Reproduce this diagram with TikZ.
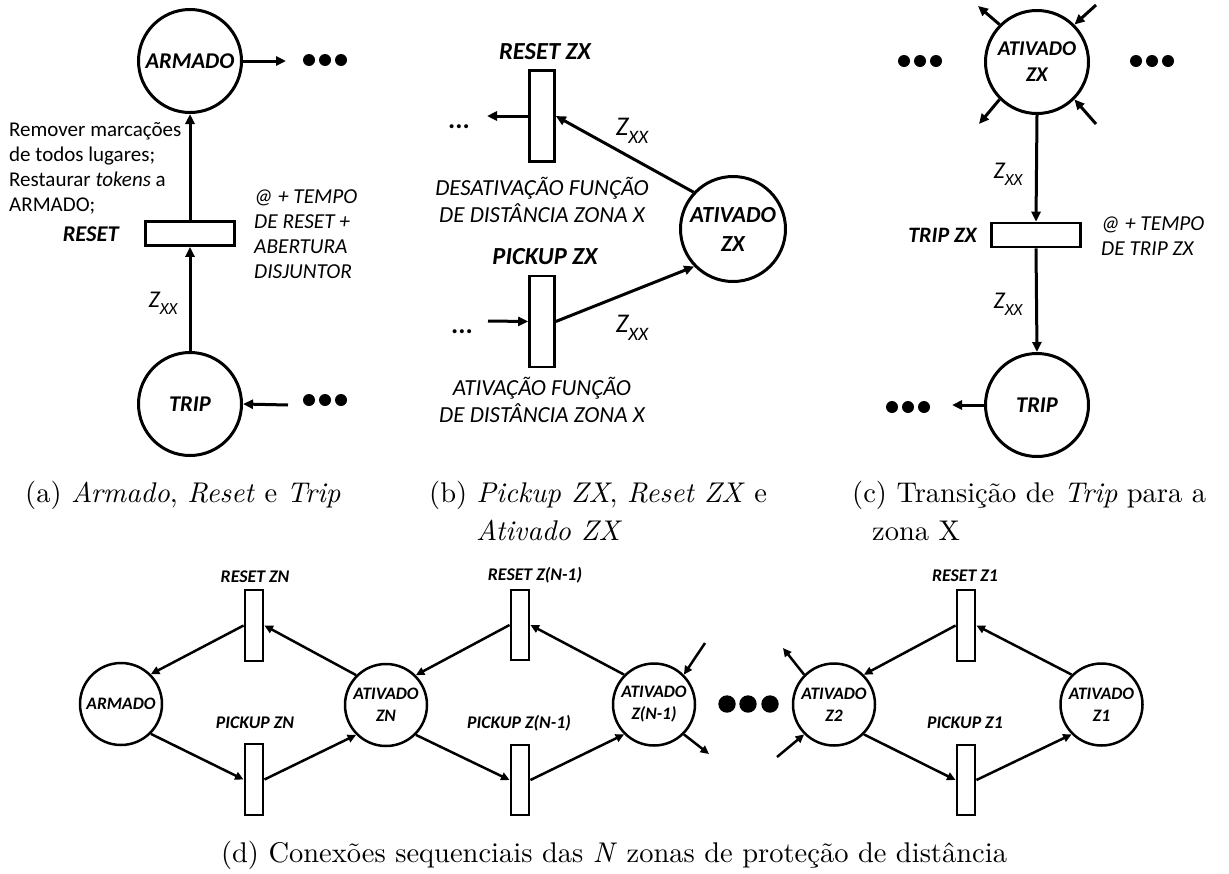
\documentclass[tikz,border=0pt]{standalone}
\usepackage{fontspec}
\setmainfont{Latin Modern Roman}
\newfontfamily\dfont{Carlito}
\newfontfamily\capfont{lmroman10-regular.otf}[ItalicFont=lmroman10-italic.otf]
\usetikzlibrary{arrows.meta}

% Z with an XX subscript, used as arc weight
\newcommand{\Zxx}[2][24]{{\dfont\itshape\fontsize{#1}{#1}\selectfont Z\raisebox{-0.28em}{\fontsize{#2}{#2}\selectfont XX}}}

\tikzset{
  place/.style={circle, draw, line width=3pt, minimum size=103pt, inner sep=0pt,
    align=center, font=\dfont\bfseries\itshape\fontsize{22.5}{28}\selectfont},
  hbar/.style={draw, line width=2.6pt, minimum width=89pt, minimum height=24pt, inner sep=0pt},
  vbar/.style={draw, line width=2.6pt, minimum width=25pt, minimum height=91pt, inner sep=0pt},
  dplace/.style={circle, draw, line width=2.5pt, minimum size=82pt, inner sep=0pt,
    align=center, font=\dfont\bfseries\itshape\fontsize{17.5}{22}\selectfont},
  dbar/.style={draw, line width=2.4pt, minimum width=18.5pt, minimum height=70.5pt, inner sep=0pt},
  arc/.style={line width=3pt, -{Triangle[length=10pt,width=9pt]}},
  darc/.style={line width=2.5pt, -{Triangle[length=8.5pt,width=8pt]}},
  tlabel/.style={inner sep=0pt, font=\dfont\bfseries\itshape\fontsize{22.5}{26}\selectfont},
  dlabel/.style={inner sep=0pt, font=\dfont\bfseries\itshape\fontsize{17.8}{20}\selectfont},
  note/.style={inner sep=0pt, align=left, font=\dfont\itshape\fontsize{21.3}{25}\selectfont},
  bnote/.style={inner sep=0pt, align=center, font=\dfont\itshape\fontsize{23}{26.5}\selectfont},
  captext/.style={inner sep=0pt, font=\capfont\fontsize{28.5}{40}\selectfont},
  bigdot/.style={fill=black},
}

\begin{document}
\begin{tikzpicture}[x=1pt, y=-1pt]
\useasboundingbox (0,0) rectangle (1229,873);

% ---------------- (a) Armado, Reset e Trip ----------------
\node[place] (armado) at (190,61) {ARMADO};
\node[hbar] (reset) at (190,233.5) {};
\node[place] (trip) at (190,404) {TRIP};
\node[tlabel, anchor=east] (resetlbl) at (119,234) {RESET};
\node[note, font=\dfont\fontsize{21}{25}\selectfont, anchor=west] (resetact) at (9,168)
  {Remover marcações\\de todos lugares;\\Restaurar \textit{tokens} a\\ARMADO;};
\node[note, anchor=west] (resettime) at (254,234)
  {@ + TEMPO\\DE RESET +\\ABERTURA\\DISJUNTOR};
\node[inner sep=0pt] (wa) at (163,303) {\Zxx{17}};
\draw[arc] (trip.north) -- (reset.south);
\draw[arc] (reset.north) -- (armado.south);
\coordinate (aout) at (286,61);
\coordinate (ain) at (288,405);
\draw[arc] (armado.east) -- (aout);
\draw[arc] (ain) -- (trip.east);
\foreach \x in {309,325,341} {
  \fill[bigdot] (\x,60) circle (6);
  \fill[bigdot] (\x,400) circle (6);
}

% ---------------- (b) Pickup ZX, Reset ZX e Ativado ZX ----------------
\node[place, minimum size=105pt, font=\dfont\bfseries\itshape\fontsize{23}{29}\selectfont]
  (atvb) at (733,229) {ATIVADO\\ZX};
\node[vbar] (rzx) at (542,116) {};
\node[vbar] (pzx) at (542,321.5) {};
\node[tlabel, font=\dfont\bfseries\itshape\fontsize{24.5}{28}\selectfont] (rzxlbl) at (545,52) {RESET ZX};
\node[tlabel, font=\dfont\bfseries\itshape\fontsize{24.5}{28}\selectfont] (pzxlbl) at (545,257) {PICKUP ZX};
\node[bnote] (rzxnote) at (542,200) {DESATIVAÇÃO FUNÇÃO\\DE DISTÂNCIA ZONA X};
\node[bnote] (pzxnote) at (542,400) {ATIVAÇÃO FUNÇÃO\\DE DISTÂNCIA ZONA X};
\node[inner sep=0pt] (wb1) at (632,131) {\Zxx[27]{19}};
\node[inner sep=0pt] (wb2) at (632,328) {\Zxx[27]{19}};
\coordinate (bout) at (487,116);
\coordinate (bin) at (488,321);
\draw[arc] (atvb.137) -- (rzx.east);
\draw[arc] (pzx.east) -- (atvb.224);
\draw[arc] (rzx.west) -- (bout);
\draw[arc] (bin) -- (pzx.west);
\node[tlabel, font=\dfont\bfseries\fontsize{27}{28}\selectfont, anchor=base] (bdots1) at (459,128) {...};
\node[tlabel, font=\dfont\bfseries\fontsize{27}{28}\selectfont, anchor=base] (bdots2) at (462,333) {...};

% ---------------- (c) Transicao de Trip para a zona X ----------------
\node[place, font=\dfont\bfseries\itshape\fontsize{21}{26}\selectfont] (atvc) at (1037,62) {ATIVADO\\ZX};
\node[hbar] (tzx) at (1036,235) {};
\node[place] (tripc) at (1037,405) {TRIP};
\node[tlabel, font=\dfont\bfseries\itshape\fontsize{22}{26}\selectfont, anchor=east] (tzxlbl) at (977,235) {TRIP ZX};
\node[note, anchor=west] (tzxnote) at (1101,236) {@ + TEMPO\\DE TRIP ZX};
\node[inner sep=0pt] (wc1) at (1008,174) {\Zxx{17}};
\node[inner sep=0pt] (wc2) at (1008,304) {\Zxx{17}};
\draw[arc] (atvc.south) -- (tzx.north);
\draw[arc] (tzx.south) -- (tripc.north);
\coordinate (c1) at (978,6);
\coordinate (c2) at (1096,5);
\coordinate (c3) at (979,124);
\coordinate (c4) at (1096,124);
\coordinate (c5) at (952,405);
\draw[arc] (atvc.135) -- (c1);
\draw[arc] (c2) -- (atvc.45);
\draw[arc] (atvc.225) -- (c3);
\draw[arc] (c4) -- (atvc.-45);
\draw[arc] (tripc.west) -- (c5);
\foreach \x in {904,920,936} \fill[bigdot] (\x,61) circle (6);
\foreach \x in {1136,1152,1168} \fill[bigdot] (\x,61) circle (6);
\foreach \x in {892,908,924} \fill[bigdot] (\x,407) circle (6);

% ---------------- (d) sequential zones ----------------
\node[dplace] (armd) at (121,704) {ARMADO};
\node[dplace] (atvn) at (386,705) {ATIVADO\\ZN};
\node[dplace] (atvn1) at (654,704.5) {ATIVADO\\Z(N-1)};
\node[dplace] (atvz2) at (834,704.5) {ATIVADO\\Z2};
\node[dplace] (atvz1) at (1101.5,704.5) {ATIVADO\\Z1};
\node[dbar] (rzn) at (254,625.5) {};
\node[dbar] (pzn) at (254,779.5) {};
\node[dbar] (rzn1) at (520,625) {};
\node[dbar] (pzn1) at (520,780) {};
\node[dbar] (rz1) at (966,625.5) {};
\node[dbar] (pz1) at (966,780) {};
\node[dlabel] (rznlbl) at (255,577) {RESET ZN};
\node[dlabel] (pznlbl) at (255,723) {PICKUP ZN};
\node[dlabel] (rzn1lbl) at (535,575) {RESET Z(N-1)};
\node[dlabel] (pzn1lbl) at (519,723) {PICKUP Z(N-1)};
\node[dlabel] (rz1lbl) at (965,576) {RESET Z1};
\node[dlabel] (pz1lbl) at (965,723) {PICKUP Z1};

\draw[darc] (atvn.135) -- (rzn.east);
\draw[darc] (rzn.west) -- (armd.45);
\draw[darc] (armd.-45) -- (pzn.west);
\draw[darc] (pzn.east) -- (atvn.225);

\draw[darc] (atvn1.135) -- (rzn1.east);
\draw[darc] (rzn1.west) -- (atvn.45);
\draw[darc] (atvn.-45) -- (pzn1.west);
\draw[darc] (pzn1.east) -- (atvn1.225);

\draw[darc] (atvz1.135) -- (rz1.east);
\draw[darc] (rz1.west) -- (atvz2.45);
\draw[darc] (atvz2.-45) -- (pz1.west);
\draw[darc] (pz1.east) -- (atvz1.225);

\coordinate (d1) at (705,643);
\coordinate (d2) at (709,754);
\coordinate (d3) at (783,648);
\coordinate (d4) at (777,757);
\draw[darc] (d1) -- (atvn1.45);
\draw[darc] (atvn1.-45) -- (d2);
\draw[darc] (atvz2.135) -- (d3);
\draw[darc] (d4) -- (atvz2.225);
\foreach \x in {727,748,770} \fill[bigdot] (\x,704) circle (8.7);

% ---------------- captions ----------------
\node[captext, anchor=base west] (capa) at (25,502)
  {(a) \textit{Armado}, \textit{Reset} e \textit{Trip}};
\node[captext, anchor=base west] (capb1) at (429,502)
  {(b) \textit{Pickup ZX}, \textit{Reset ZX} e};
\node[captext, anchor=base west] (capb2) at (476,540) {\textit{Ativado ZX}};
\node[captext, anchor=base west] (capc1) at (852,502)
  {(c) Transição de \textit{Trip} para a};
\node[captext, anchor=base west] (capc2) at (872,540) {zona X};
\node[captext, anchor=base] (capd) at (614,862)
  {(d) Conexões sequenciais das \textit{N} zonas de proteção de distância};
\end{tikzpicture}
\end{document}
